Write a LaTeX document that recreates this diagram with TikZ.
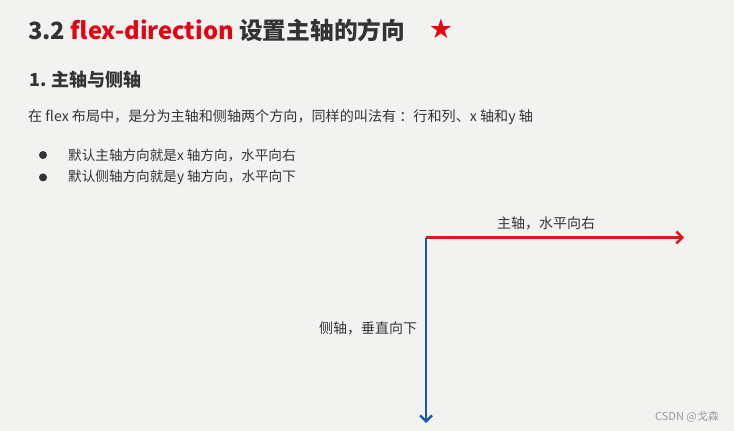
\documentclass[tikz,border=0pt]{standalone}
\usepackage{fontspec}
\setmainfont{Noto Sans CJK SC}
\newfontfamily\starfont{DejaVu Sans}
\usetikzlibrary{arrows.meta,positioning}

\definecolor{slidebg}{HTML}{F2F3F1}
\definecolor{txtgray}{HTML}{333333}
\definecolor{titlered}{HTML}{E60012}
\definecolor{axisred}{HTML}{E3141B}
\definecolor{axisblue}{HTML}{1858AE}
\definecolor{markgray}{HTML}{9A9A9A}

\begin{document}
\begin{tikzpicture}[x=1pt,y=-1pt,node distance=20pt,
                    every node/.style={inner sep=0pt,text=txtgray}]

  \tikzset{
    heading/.style  = {anchor=west, font=\fontsize{23.7}{28}\selectfont\bfseries},
    subhead/.style  = {anchor=west, font=\fontsize{18}{22}\selectfont\bfseries},
    bodytext/.style = {anchor=west, font=\fontsize{14.1}{17}\selectfont},
    bullettext/.style = {anchor=west, font=\fontsize{13.6}{17}\selectfont},
    bulletdot/.style= {circle, fill=txtgray, minimum size=8pt},
    mainaxis/.style = {draw=axisred, line width=2.4pt, -{Straight Barb[length=6pt,width=12pt]}},
    crossaxis/.style= {draw=axisblue, line width=2.4pt, -{Straight Barb[length=6pt,width=12pt]}},
    axislabel/.style= {font=\fontsize{14}{17}\selectfont}
  }

  \fill[slidebg] (0,0) rectangle (734,431);
  \useasboundingbox (0,0) rectangle (734,431);

  % headings
  \node[heading] (title) at (28,30) {3.2 {\color{titlered}flex-direction} 设置主轴的方向};
  \node[font=\fontsize{27}{30}\selectfont\starfont, text=titlered] (star) at (441,29) {★};
  \node[subhead] (sub) at (29,80) {1. 主轴与侧轴};
  \node[bodytext] (intro) at (28,117) {在 flex 布局中，是分为主轴和侧轴两个方向，同样的叫法有 ：行和列、x 轴和y 轴};

  % bullets
  \node[bulletdot] (b1) at (43,155) {};
  \node[bulletdot] (b2) [below=14pt of b1] {};
  \node[bullettext] (t1) at (68,155) {默认主轴方向就是x 轴方向，水平向右};
  \node[bullettext] (t2) at (68,177) {默认侧轴方向就是y 轴方向，水平向下};

  % axes
  \coordinate (origin) at (426,237.5);
  \coordinate (xend)   at (684,237.5);
  \coordinate (yend)   at (426,423);
  \draw[mainaxis]  (origin) -- (xend);
  \draw[crossaxis] (origin) -- (yend);
  \node[axislabel] (xlab) at (546,223.5) {主轴，水平向右};
  \node[axislabel] (ylab) at (368,328.5) {侧轴，垂直向下};

  \node[font=\fontsize{11}{13}\selectfont, text=markgray] (mark) at (687,417) {CSDN @戈森};

\end{tikzpicture}
\end{document}
